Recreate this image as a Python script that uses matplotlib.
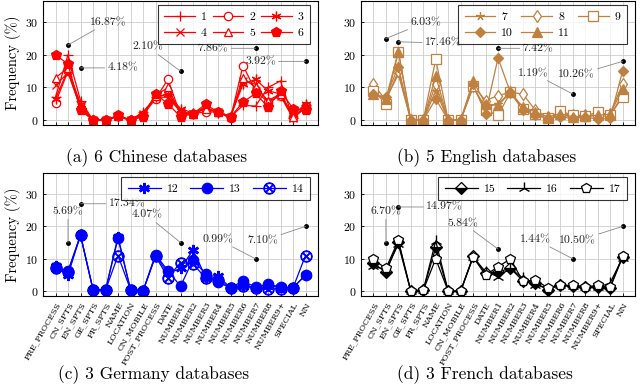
import numpy as np
import matplotlib
matplotlib.use('Agg')
import matplotlib.pyplot as plt

plt.rcParams['font.family'] = ['cmr10', 'DejaVu Serif']
plt.rcParams['mathtext.fontset'] = 'cm'
plt.rcParams['axes.formatter.use_mathtext'] = True

categories = ['PRE_PROCESS', 'CN_SPTS', 'EN_SPTS', 'GE_SPTS', 'FR_SPTS', 'NAME',
              'LOCATION', 'CN_MOBILE', 'POST_PROCESS', 'DATE', 'NUMBER1', 'NUMBER2',
              'NUMBER3', 'NUMBER4', 'NUMBER5', 'NUMBER6', 'NUMBER7', 'NUMBER8',
              'NUMBER9+', 'SPECIAL', 'NN']

# (a) Chinese
zh_names = ['1', '2', '3', '4', '5', '6']
zh_1 = [7, 20, 6, 0, 0, 1.2, 0, 2.5, 7, 8, 2.5, 2, 3.5, 2.5, 1, 4.5, 4.3, 10, 12, 0.5, 4.5]
zh_2 = [5.3, 15, 3.5, 0, 0, 1.2, 0, 1.5, 6.5, 12.5, 1.5, 2, 2.5, 2.5, 0.5, 16.7, 9, 5.5, 7.5, 1, 4.2]
zh_3 = [6.5, 15.5, 5, 0, 0, 1, 0, 2, 7, 8, 3.5, 2.2, 4, 2.2, 1, 11, 12.5, 9, 8, 1.5, 5]
zh_4 = [10.7, 14.5, 4, 0, 0, 1.2, 0, 2, 7, 7, 2.5, 2, 3.5, 2.5, 1, 12, 11, 5.5, 7.5, 0.5, 4]
zh_5 = [13, 16, 4, 0, 0, 1.3, 0, 1.5, 7.5, 10, 2, 2, 3.5, 2.5, 1.2, 13, 10, 6, 8, 1, 3.5]
zh_6 = [20, 17.2, 3, 0, 0, 1.5, 0, 1, 8, 5, 1, 2, 4.8, 2.5, 1, 5.5, 8.2, 4, 9, 3.5, 3]

# (b) English
en_names = ['7', '8', '9', '10', '11']
en_7 = [8, 6.5, 14, 0, 0, 9, 0, 0, 10, 4, 5, 8.5, 3.5, 2, 0.5, 1.5, 1, 1, 1.5, 1, 8]
en_8 = [11, 6, 15, 0, 0, 11, 0, 0, 10.5, 6, 7.5, 8.5, 8, 3, 1, 2, 1.5, 1.5, 1.5, 2, 11]
en_9 = [9, 5, 21, 0, 0, 18.6, 0, 0, 10.5, 3, 1.5, 8.5, 3.5, 2, 0.5, 2.8, 1.5, 1.2, 2.5, 1.5, 7]
en_10 = [8, 7, 16.4, 0, 0, 6.5, 0, 0, 11, 2, 19, 8.5, 3, 1.5, 0.5, 1, 0.5, 1, 0.3, 0.5, 15]
en_11 = [8, 6.5, 21, 0, 0, 13.5, 0, 0, 12, 5, 4.5, 8.5, 4, 2.5, 1, 2, 1, 1.2, 1.5, 1.8, 9.5]

# (c) Germany
ge_names = ['12', '13', '14']
ge_12 = [7.8, 5, 17.3, 0.5, 0.3, 16.8, 0.5, 0, 11, 5.5, 7, 12.7, 4.5, 4.8, 1, 2, 1, 1.5, 1.3, 1, 5]
ge_13 = [7.5, 6.2, 17.3, 0.5, 0.3, 16.3, 0.5, 0, 11.3, 6.3, 1.5, 9.7, 5.3, 2.8, 1, 3.2, 1.2, 2.2, 1.3, 1, 5]
ge_14 = [7, 6, 17.3, 0.5, 0.3, 11, 0.5, 0, 10.8, 4.2, 8.8, 8.5, 4, 3.5, 1, 1.5, 1, 0.7, 0.8, 1, 11]

# (d) French
fr_names = ['15', '16', '17']
fr_15 = [8.7, 5.8, 15.2, 0, 0.3, 13.5, 0, 0, 10.8, 5.5, 6, 7, 3.2, 2.5, 0.5, 1.8, 1.5, 1.3, 1.2, 1, 10.5]
fr_16 = [7.8, 6.5, 14.5, 0, 0.3, 15.5, 0, 0, 10.5, 6, 4.5, 7, 4, 2, 0.8, 1.8, 1.6, 1.3, 1.2, 2.5, 10.3]
fr_17 = [9.8, 7, 15.7, 0, 0.3, 10, 0, 0, 10.5, 5, 7.5, 10, 3, 3.5, 1, 1.8, 1.8, 1.3, 1.8, 1.2, 10.8]

# pins: label, dot x, dot y, text x, text y
zh_pins = [('16.87%', 1, 23, 4.2, 30), ('4.18%', 2, 16, 5.4, 16), ('2.10%', 10, 15, 7.4, 22.4),
           ('7.86%', 16, 22, 12.6, 22), ('3.92%', 20, 18, 16.4, 18)]
en_pins = [('6.03%', 1, 25, 4.2, 30), ('17.46%', 2, 24, 5.6, 23.6), ('7.42%', 10, 22, 13.2, 22),
           ('1.19%', 16, 8, 12.8, 14.4), ('10.26%', 20, 18, 16.3, 13.8)]
ge_pins = [('5.69%', 1, 15, 1, 24.5), ('17.34%', 2, 27, 5.7, 27), ('4.07%', 10, 15, 7.3, 23.5),
           ('0.99%', 16, 10, 13, 16), ('7.10%', 20, 20, 16.6, 15.6)]
fr_pins = [('6.70%', 1, 15, 1, 24.5), ('14.97%', 2, 26, 5.7, 26), ('5.84%', 10, 13, 7.2, 21),
           ('1.44%', 16, 10, 13, 16), ('10.50%', 20, 20, 16.4, 15.6)]

captions = ['(a) 6 Chinese databases', '(b) 5 English databases',
            '(c) 3 Germany databases', '(d) 3 French databases']

red = '#FF0000'
brown = '#BF8040'
blue = '#0000FF'
black = '#000000'

zh_style = [dict(marker='+', ms=7), dict(marker='o', mfc='white', ms=6),
            dict(marker=(6, 2, 0), ms=7), dict(marker='x', ms=5.5),
            dict(marker='^', mfc='white', ms=6), dict(marker='p', ms=7)]
en_style = [dict(marker=(5, 2, 0), ms=6), dict(marker='d', mfc='white', ms=6),
            dict(marker='s', mfc='white', ms=7), dict(marker='D', ms=5),
            dict(marker='^', ms=6.5)]
ge_style = [dict(marker=(6, 2, 0), ms=8, mew=1.8), dict(marker='o', ms=7.5),
            dict(marker='$\\otimes$', ms=8)]
fr_style = [dict(marker='D', ms=6, fillstyle='bottom', markerfacecoloralt='white'),
            dict(marker='2', ms=9, mew=1.0), dict(marker='p', mfc='white', ms=7.5)]

fig = plt.figure(figsize=(6.4, 3.9), dpi=100)
ax_a = fig.add_axes([43/640, (390-125)/390, 275/640, 124/390])
ax_b = fig.add_axes([361/640, (390-125)/390, 274/640, 124/390])
ax_c = fig.add_axes([43/640, (390-296)/390, 275/640, 123/390])
ax_d = fig.add_axes([361/640, (390-296)/390, 274/640, 123/390])

x = np.arange(len(categories))

panels = [
    (ax_a, [zh_1, zh_2, zh_3, zh_4, zh_5, zh_6], zh_names, zh_style, red, zh_pins),
    (ax_b, [en_7, en_8, en_9, en_10, en_11], en_names, en_style, brown, en_pins),
    (ax_c, [ge_12, ge_13, ge_14], ge_names, ge_style, blue, ge_pins),
    (ax_d, [fr_15, fr_16, fr_17], fr_names, fr_style, black, fr_pins),
]

for i, (ax, series, names, styles, col, pins) in enumerate(panels):
    lines = []
    for vals, name, st in zip(series, names, styles):
        st = dict(st)
        kw = dict(color=col, mec=col, lw=0.9, mew=st.pop('mew', 0.9))
        if 'mfc' not in st and 'fillstyle' not in st:
            kw['mfc'] = col
        kw.update(st)
        ln, = ax.plot(x, vals, label=name, **kw)
        lines.append(ln)

    for lab, dx, dy, tx, ty in pins:
        ax.plot(dx, dy, 'o', color='black', ms=2.5, zorder=5)
        ax.annotate(lab, xy=(dx, dy), xytext=(tx, ty), ha='center', va='center',
                    fontsize=8.5, color='#222222', zorder=6,
                    arrowprops=dict(arrowstyle='-', color='#888888', lw=0.6,
                                    shrinkA=0, shrinkB=0))

    ax.set_xlim(-1, 21)
    ax.set_ylim(-1.5, 36.5)
    ax.set_yticks([0, 10, 20, 30])
    ax.set_xticks(x)
    ax.grid(True, color='#cccccc', lw=0.6)
    ax.set_axisbelow(True)
    ax.tick_params(direction='in', length=2.5, width=0.6, labelsize=8.5,
                   top=False, right=False)
    for s in ax.spines.values():
        s.set_linewidth(0.8)
    if i < 2:
        ax.set_xticklabels([])
    else:
        ax.set_xticklabels(categories, rotation=60, ha='right', rotation_mode='anchor',
                           fontsize=6, family='DejaVu Serif')
    if i % 2 == 0:
        ax.set_ylabel('Frequency (%)', fontsize=10.5, labelpad=3)

    # legend filled row by row, 3 per row
    if len(lines) == 6:
        order = [0, 3, 1, 4, 2, 5]
        cs, hl = 0.5, 2.6
    elif len(lines) == 5:
        order = [0, 3, 1, 4, 2]
        cs, hl = 0.7, 2.6
    else:
        order = [0, 1, 2]
        cs, hl = 1.0, 2.8
    hs = [lines[k] for k in order]
    leg = ax.legend(hs, [h.get_label() for h in hs], ncol=3, loc='upper right',
                    bbox_to_anchor=(0.971, 0.968), borderaxespad=0,
                    fontsize=8.5, frameon=True, fancybox=False, edgecolor='black',
                    handlelength=hl, handletextpad=0.5, columnspacing=cs,
                    borderpad=0.55, labelspacing=0.5)
    leg.get_frame().set_linewidth(0.8)
    leg.set_zorder(7)

fig.text(157/640, 1 - 158/390, captions[0], ha='center', va='center', fontsize=12.5)
fig.text(487/640, 1 - 158/390, captions[1], ha='center', va='center', fontsize=12.5)
fig.text(154/640, 1 - 375/390, captions[2], ha='center', va='center', fontsize=12.5)
fig.text(485/640, 1 - 375/390, captions[3], ha='center', va='center', fontsize=12.5)

fig.savefig('out.png', dpi=100)
